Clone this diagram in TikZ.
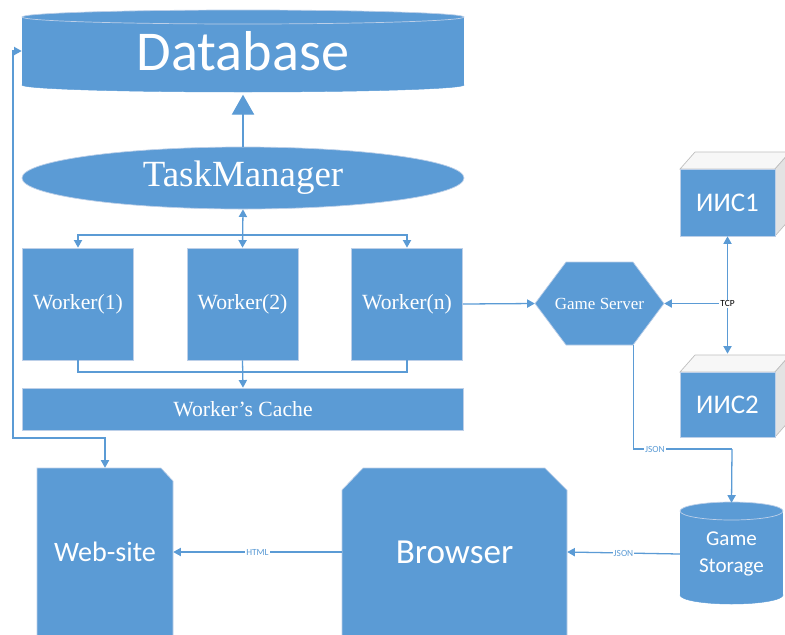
\documentclass[tikz,border=0pt]{standalone}
\usepackage{fontspec}
\setmainfont{Liberation Serif}
\setsansfont{Carlito}
\usetikzlibrary{calc,positioning,arrows.meta,shapes.geometric}

\definecolor{boxblue}{HTML}{5B9BD5}
\definecolor{boxedge}{HTML}{BCCFE8}
\definecolor{topgray}{HTML}{F7F7F7}
\definecolor{sidegray}{HTML}{E3E3E3}
\definecolor{faceedge}{HTML}{BFBFBF}

\begin{document}
\begin{tikzpicture}[x=0.3mm,y=-0.3mm,
    sz/.style 2 args={minimum width=#1*0.3mm,minimum height=#2*0.3mm},
    box/.style={fill=boxblue,draw=boxedge,line width=0.6pt,text=white,inner sep=0pt},
    bare/.style={inner sep=0pt,text=white},
    link/.style={draw=boxblue,line width=1.1pt},
    tip/.style={-{Triangle[width=7pt,length=6.5pt]}},
    tips/.style={{Triangle[width=7pt,length=6.5pt]}-{Triangle[width=7pt,length=6.5pt]}},
    bigtip/.style={-{Triangle[width=19pt,length=17pt]}},
    tag/.style={fill=white,inner sep=0.8pt,text=boxblue,font=\sffamily\fontsize{8}{9}\selectfont}]
\useasboundingbox (0,0) rectangle (785,634);
\clip (0,0) rectangle (785,634);

% database drum
\filldraw[boxblue] (243,85) ellipse [x radius=221,y radius=7];
\node[box,draw=none,sz={442}{68},font=\sffamily\fontsize{48}{50}\selectfont] (db) at (243,51) {Database};
\filldraw[fill=boxblue,draw=boxedge,line width=0.6pt] (243,17) ellipse [x radius=221,y radius=7];

\node[box,ellipse,sz={442}{62},font=\fontsize{31.5}{34}\selectfont] (tm) at (243,178) {TaskManager};

\node[box,sz={111}{112},font=\fontsize{18.5}{20}\selectfont] (w1) at (78,304) {Worker(1)};
\node[box,sz={111}{112},font=\fontsize{18.5}{20}\selectfont] (w2) at (242.5,304) {Worker(2)};
\node[box,sz={111}{112},font=\fontsize{18.5}{20}\selectfont] (wn) at (407,304) {Worker(n)};
\node[box,sz={441}{42},font=\fontsize{18.5}{20}\selectfont] (cache) at (243,409) {Worker’s Cache};

% game server hexagon
\filldraw[fill=boxblue,draw=boxedge,line width=0.6pt] (535,303.5) -- (566,262) -- (633,262) -- (664,303.5) -- (633,345) -- (566,345) -- cycle;
\node[bare,sz={129}{83},font=\fontsize{14.5}{16}\selectfont] (gs) at (599.5,303.5) {Game Server};

% servers
\filldraw[fill=topgray,draw=faceedge,line width=0.6pt] (680,169) -- (695,152) -- (790,152) -- (775,169) -- cycle;
\filldraw[fill=sidegray,draw=faceedge,line width=0.6pt] (775,169) -- (790,152) -- (790,219) -- (775,236) -- cycle;
\node[box,sz={95}{67},font=\sffamily\fontsize{23}{25}\selectfont] (iis1) at (727.5,202.5) {ИИС1};
\filldraw[fill=topgray,draw=faceedge,line width=0.6pt] (680,372) -- (695,355) -- (790,355) -- (775,372) -- cycle;
\filldraw[fill=sidegray,draw=faceedge,line width=0.6pt] (775,372) -- (790,355) -- (790,420) -- (775,437) -- cycle;
\node[box,sz={95}{65},font=\sffamily\fontsize{23}{25}\selectfont] (iis2) at (727.5,404.5) {ИИС2};

% game storage drum
\filldraw[boxblue] (731.5,595) ellipse [x radius=51.5,y radius=9];
\fill[boxblue] (680,511) rectangle (783,595);
\filldraw[fill=boxblue,draw=boxedge,line width=0.6pt] (731.5,511) ellipse [x radius=51.5,y radius=9];
\node[bare,sz={103}{102},align=center,font=\sffamily\fontsize{18}{22.5}\selectfont] (gst) at (731.5,554) {Game\\Storage};

% browser and site
\filldraw[fill=boxblue,draw=boxedge,line width=0.6pt] (342,640) -- (342,490) -- (363,468) -- (545,468) -- (567,490) -- (567,640);
\node[bare,sz={225}{168},font=\sffamily\fontsize{30}{32}\selectfont] (brw) at (454.5,552) {Browser};
\filldraw[fill=boxblue,draw=boxedge,line width=0.6pt] (37,640) -- (37,468) -- (161,468) -- (173,481) -- (173,640);
\node[bare,sz={136}{168},font=\sffamily\fontsize{24}{26}\selectfont] (web) at (105,552) {Web-site};

\draw[link,bigtip] (tm.north) -- ([yshift=-8pt]db.south);
\draw[link,tips] (tm.south) -- (w2.north);
\coordinate (fork) at (242.5,235);
\draw[link,tips] (w1.north) |- (fork) -| (wn.north);
\coordinate (join) at (242.5,372);
\draw[link] (w1.south) |- (join) -| (wn.south);
\draw[link,tip] (w2.south) -- (cache.north);

\coordinate (loop) at (13,438);
\draw[link,tips] (web.north) |- (loop) |- (db.west);

\draw[link,tip] (wn.east) -- (gs.west);
\coordinate (tcp) at (727.5,303.5);
\draw[link,tip] (tcp) -- (gs.east);
\draw[link,tips] (iis1.south) -- ($(iis2.north)+(0,-18)$);
\node[tag,text=black] (tcplbl) at (tcp) {TCP};

\coordinate (gsfoot) at ($(gs.south east)+(-31,0)$);
\coordinate (jbend) at (732,449);
\draw[link] (gsfoot) |- node[tag,pos=0.61] (json1) {JSON} (jbend);
\draw[link,tip] (jbend) -- (gst.north);
\draw[link,tip] (gst.west) -- node[tag] (json2) {JSON} (brw.east);
\draw[link,tip] (brw.west) -- node[tag] (html) {HTML} (web.east);
\end{tikzpicture}
\end{document}
